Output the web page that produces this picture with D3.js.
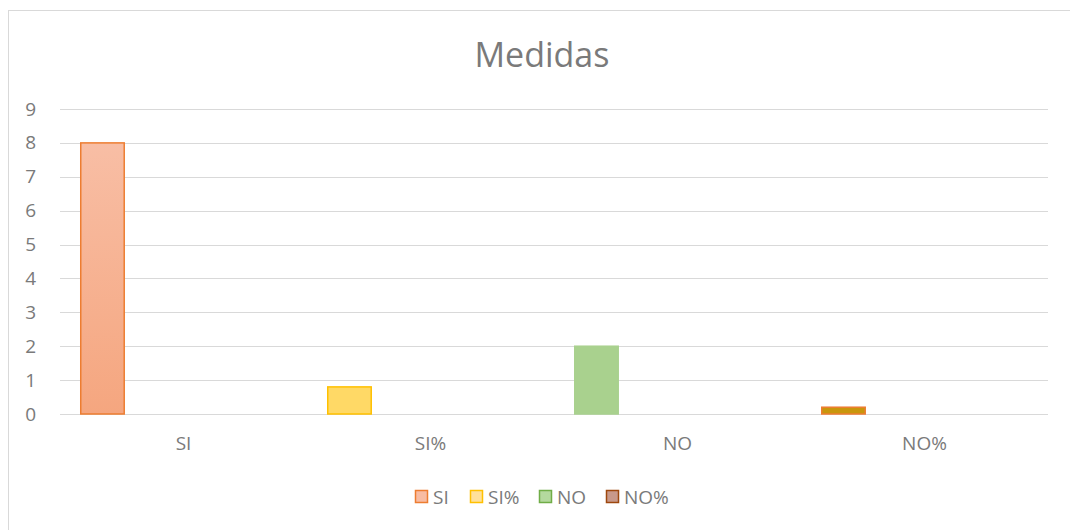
<!DOCTYPE html>
<html lang="es">
<head>
    <meta charset="UTF-8">
    <title>Medidas</title>
    <script src="https://d3js.org/d3.v7.min.js"></script>
    <style>
        body { margin: 0; background: #fff; font-family: "Open Sans", Arial, sans-serif; }
        text { fill: #7a7a7a; font-family: "Open Sans", Arial, sans-serif; }
    </style>
</head>
<body>
    <div id="chart"></div>
    <script>
        const categories = ["SI", "SI%", "NO", "NO%"];
        const values = [8, 0.8, 2, 0.2];
        const yTicks = [0, 1, 2, 3, 4, 5, 6, 7, 8, 9];
        const fills = ["#f6ad8c", "#ffd966", "#a9d18e", "#c9960c"];
        const strokes = ["#ed7d31", "#ffc000", "#a9d18e", "#ed7d31"];
        const legendFills = ["#f8bca3", "#ffe09a", "#b4d99e", "#c8998a"];
        const legendStrokes = ["#ed7d31", "#ffc000", "#70ad47", "#9e480e"];

        const W = 1070, H = 530;
        const margin = { top: 109, right: 22, bottom: 116, left: 60 };
        const width = W - margin.left - margin.right;
        const height = H - margin.top - margin.bottom;

        const svg = d3.select("#chart").append("svg")
            .attr("width", W).attr("height", H);

        // chart frame
        svg.append("rect")
            .attr("x", 8.5).attr("y", 10.5)
            .attr("width", W).attr("height", H)
            .attr("fill", "none").attr("stroke", "#d9d9d9");

        svg.append("text")
            .attr("x", 542).attr("y", 67)
            .attr("text-anchor", "middle")
            .style("font-size", "34px")
            .text("Medidas");

        const g = svg.append("g")
            .attr("transform", `translate(${margin.left},${margin.top})`);

        const x = d3.scaleBand().domain(categories).range([0, width]).padding(0);
        const y = d3.scaleLinear().domain([0, 9]).range([height, 0]);

        g.selectAll(".grid").data(yTicks).enter().append("line")
            .attr("x1", 0).attr("x2", width)
            .attr("y1", d => Math.round(y(d)) + 0.5).attr("y2", d => Math.round(y(d)) + 0.5)
            .attr("stroke", "#d9d9d9");

        const yAxis = g.append("g").call(d3.axisLeft(y).tickValues(yTicks).tickSize(0).tickPadding(24));
        yAxis.select(".domain").remove();
        yAxis.selectAll("text").style("font-size", "19px").attr("fill", "#7a7a7a");

        const xAxis = g.append("g").attr("transform", `translate(0,${height})`)
            .call(d3.axisBottom(x).tickSize(0).tickPadding(23));
        xAxis.select(".domain").remove();
        xAxis.selectAll("text").style("font-size", "19px").attr("fill", "#7a7a7a");

        const defs = svg.append("defs");
        const grad = defs.append("linearGradient").attr("id", "gradSI")
            .attr("x1", 0).attr("y1", 0).attr("x2", 0).attr("y2", 1);
        grad.append("stop").attr("offset", "0%").attr("stop-color", "#f8bea5");
        grad.append("stop").attr("offset", "100%").attr("stop-color", "#f5a67f");

        const barOffset = 0.084, barWidth = 0.176;
        g.selectAll(".bar").data(values).enter().append("rect")
            .attr("x", (d, i) => x(categories[i]) + x.bandwidth() * barOffset)
            .attr("y", d => y(d))
            .attr("width", x.bandwidth() * barWidth)
            .attr("height", d => height - y(d))
            .attr("fill", (d, i) => i === 0 ? "url(#gradSI)" : fills[i])
            .attr("stroke", (d, i) => strokes[i])
            .attr("stroke-width", 1.5);

        const legendX = [415, 470, 539, 606];
        const legend = svg.append("g").attr("transform", "translate(0,490)");
        categories.forEach((c, i) => {
            legend.append("rect")
                .attr("x", legendX[i] + 0.5).attr("y", 0.5)
                .attr("width", 12).attr("height", 12)
                .attr("fill", legendFills[i]).attr("stroke", legendStrokes[i]).attr("stroke-width", 1.5);
            legend.append("text")
                .attr("x", legendX[i] + 18).attr("y", 14)
                .style("font-size", "19px")
                .text(c);
        });
    </script>
</body>
</html>
